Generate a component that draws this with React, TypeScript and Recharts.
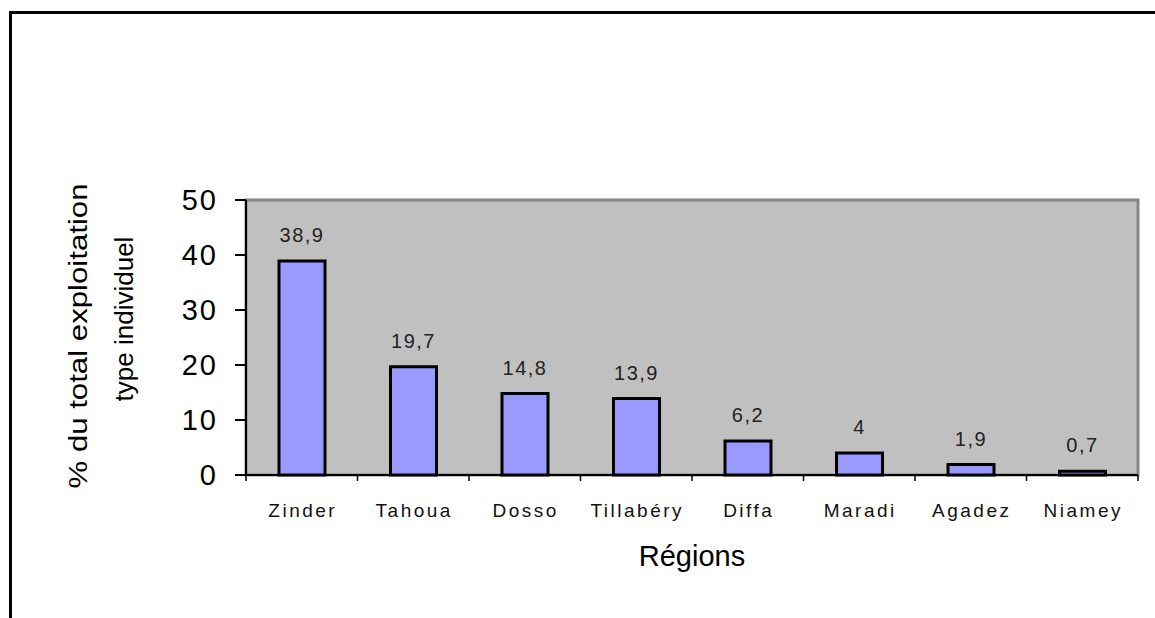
import { BarChart, Bar, XAxis, YAxis, LabelList, ReferenceArea } from "recharts";

const regions = ["Zinder", "Tahoua", "Dosso", "Tillabéry", "Diffa", "Maradi", "Agadez", "Niamey"];
const shares = [38.9, 19.7, 14.8, 13.9, 6.2, 4, 1.9, 0.7];
const yTicks = [0, 10, 20, 30, 40, 50];

const data = regions.map((region, i) => ({ region, share: shares[i] }));

const W = 1155;
const H = 618;
const PLOT_LEFT = 246;
const PLOT_RIGHT = 1138;
const PLOT_TOP = 200;
const PLOT_BOTTOM = 475;
const BAND = (PLOT_RIGHT - PLOT_LEFT) / regions.length;
const FONT = '"Liberation Sans", Arial, sans-serif';

// Excel style: tick marks sit between categories, not under them
function RegionTick({ x, payload, index }: any) {
  const y0 = PLOT_BOTTOM;
  return (
    <g>
      <line x1={x - BAND / 2} x2={x - BAND / 2} y1={y0} y2={y0 + 6} stroke="#000" strokeWidth={1.5} />
      {index === regions.length - 1 && (
        <line x1={x + BAND / 2} x2={x + BAND / 2} y1={y0} y2={y0 + 6} stroke="#000" strokeWidth={1.5} />
      )}
      <text x={x + 1} y={y0 + 42} textAnchor="middle" fontSize={19} letterSpacing={2.5} fill="#111" fontFamily={FONT}>
        {payload.value}
      </text>
    </g>
  );
}

function YTitle() {
  return (
    <g fontFamily={FONT} fontSize={26} fill="#000">
      <text x={78} y={336} transform="rotate(-90 78 336)" textAnchor="middle" dominantBaseline="central"
        textLength={305} lengthAdjust="spacingAndGlyphs">
        % du total exploitation
      </text>
      <text x={124} y={319} transform="rotate(-90 124 319)" textAnchor="middle" dominantBaseline="central">
        type individuel
      </text>
    </g>
  );
}

const fmt = (v: any) => String(v).replace(".", ",");

export default function App() {
  return (
    <div style={{ position: "absolute", left: 0, top: 0, width: W, height: H, overflow: "hidden", background: "#fff" }}>
      <div
        style={{
          position: "absolute",
          left: 9,
          top: 11,
          width: 1300,
          height: 800,
          borderLeft: "3px solid #000",
          borderTop: "3px solid #000",
        }}
      />
      <div style={{ position: "absolute", left: 0, top: 0 }}>
        <BarChart
          width={W}
          height={H}
          data={data}
          margin={{ top: PLOT_TOP, right: W - PLOT_RIGHT, bottom: 0, left: 0 }}
          barCategoryGap="0%"
        >
          <ReferenceArea y1={0} y2={50} fill="#C0C0C0" fillOpacity={1} stroke="#858585" strokeWidth={3} />
          <XAxis
            dataKey="region"
            height={H - PLOT_BOTTOM}
            axisLine={{ stroke: "#000", strokeWidth: 2 }}
            tickLine={false}
            tick={<RegionTick />}
            interval={0}
            label={{ value: "Régions", position: "insideBottom", offset: 52, fontSize: 29, fill: "#000", fontFamily: FONT }}
          />
          <YAxis
            width={PLOT_LEFT}
            domain={[0, 50]}
            ticks={yTicks}
            interval={0}
            axisLine={{ stroke: "#000", strokeWidth: 2 }}
            tickLine={{ stroke: "#000", strokeWidth: 2 }}
            tickSize={11}
            tickMargin={17}
            tick={{ fontSize: 29, fill: "#000", fontFamily: FONT, letterSpacing: 2 }}
            label={<YTitle />}
          />
          <Bar dataKey="share" fill="#9999FF" stroke="#000" strokeWidth={3} barSize={46} isAnimationActive={false}>
            <LabelList
              dataKey="share"
              position="top"
              offset={19}
              formatter={fmt}
              style={{ fontSize: 20, fill: "#222", fontFamily: FONT, letterSpacing: 1.5 }}
            />
          </Bar>
        </BarChart>
      </div>
    </div>
  );
}
